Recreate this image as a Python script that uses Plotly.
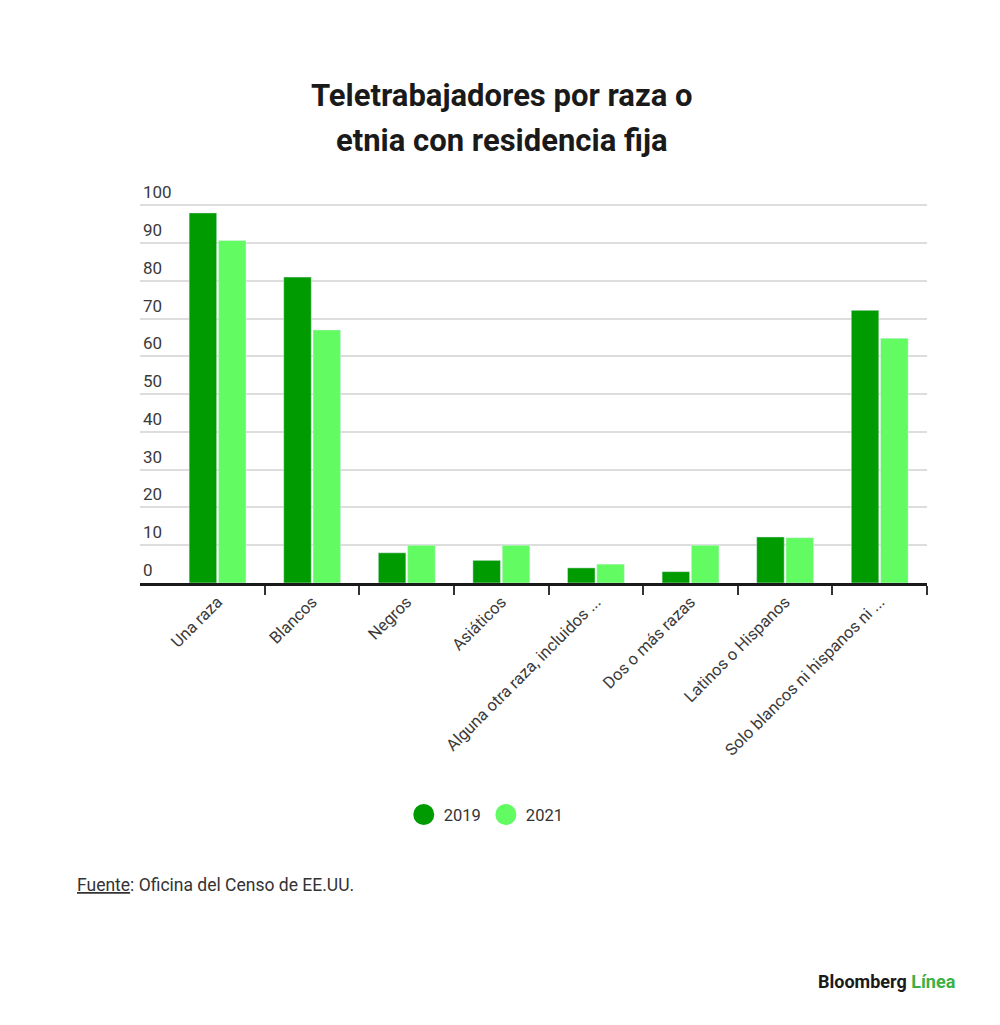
import plotly.graph_objects as go

categorias = ["Una raza", "Blancos", "Negros", "Asiáticos",
              "Alguna otra raza, incluidos ...", "Dos o más razas",
              "Latinos o Hispanos", "Solo blancos ni hispanos ni ..."]
valores_2019 = [98, 81, 8, 6, 4, 3, 12.2, 72.2]
valores_2021 = [90.7, 67, 10, 10, 5, 10, 12, 64.8]
y_ticks = [0, 10, 20, 30, 40, 50, 60, 70, 80, 90, 100]

verde_osc = "#009b00"
verde_cla = "#62fb62"
fuente = "Roboto"

fig = go.Figure()
fig.add_trace(go.Bar(x=categorias, y=valores_2019, name="2019", marker_color=verde_osc,
                     showlegend=False))
fig.add_trace(go.Bar(x=categorias, y=valores_2021, name="2021", marker_color=verde_cla,
                     showlegend=False))
# puntos de leyenda (circulos grandes)
fig.add_trace(go.Scatter(x=[None], y=[None], mode="markers", name="2019",
                         marker=dict(color=verde_osc, size=22, line=dict(color=verde_osc, width=5))))
fig.add_trace(go.Scatter(x=[None], y=[None], mode="markers", name="2021",
                         marker=dict(color=verde_cla, size=22, line=dict(color=verde_cla, width=5))))

# el rango llega a 112 para que la etiqueta "100" quepa sobre su linea
fig.update_layout(
    width=1000, height=1025,
    margin=dict(l=132, r=81, t=152, b=450),
    paper_bgcolor="white", plot_bgcolor="white",
    font=dict(family=fuente, color="#333333", size=16),
    barmode="group", bargap=0.38, bargroupgap=0.06,
    legend=dict(orientation="h", x=0.44, xanchor="center", y=-0.548, yanchor="middle",
                font=dict(size=16.5, color="#333333"), itemsizing="trace"),
    xaxis=dict(range=[-0.82, 7.5], tickson="boundaries", ticks="outside", ticklen=9,
               tickwidth=1.5, tickcolor="#333333", tickangle=-45, showgrid=False,
               showline=True, linecolor="#1a1a1a", linewidth=2.5,
               tickfont=dict(size=16.5, color="#3a3a3a")),
    yaxis=dict(range=[0, 112], tickvals=y_ticks, showgrid=True, gridcolor="#dddddd",
               gridwidth=1.5, zeroline=False, ticklabelposition="inside",
               ticklabelshift=-13, ticklabelstandoff=0,
               tickfont=dict(size=17, color="#3a3a3a")),
)

# titulo en dos lineas
fig.add_annotation(text="<b>Teletrabajadores por raza o</b>", xref="paper", yref="paper",
                   x=0.46, y=1.1528, xanchor="center", yanchor="middle", showarrow=False,
                   font=dict(size=31, color="#1a1a1a"))
fig.add_annotation(text="<b>etnia con residencia fija</b>", xref="paper", yref="paper",
                   x=0.46, y=1.0466, xanchor="center", yanchor="middle", showarrow=False,
                   font=dict(size=31, color="#1a1a1a"))

fig.add_annotation(text="<u>Fuente</u>: Oficina del Censo de EE.UU.", xref="paper", yref="paper",
                   x=-0.0826, y=-0.7134, xanchor="left", yanchor="middle", showarrow=False,
                   font=dict(size=17.5, color="#333333"))
fig.add_annotation(text="<b>Bloomberg</b> <b><span style='color:#3cb043'>Línea</span></b>",
                   xref="paper", yref="paper", x=1.04, y=-0.9426, xanchor="right",
                   yanchor="middle", showarrow=False, font=dict(size=18, color="#1a1a1a"))

fig.write_html("out.html")
